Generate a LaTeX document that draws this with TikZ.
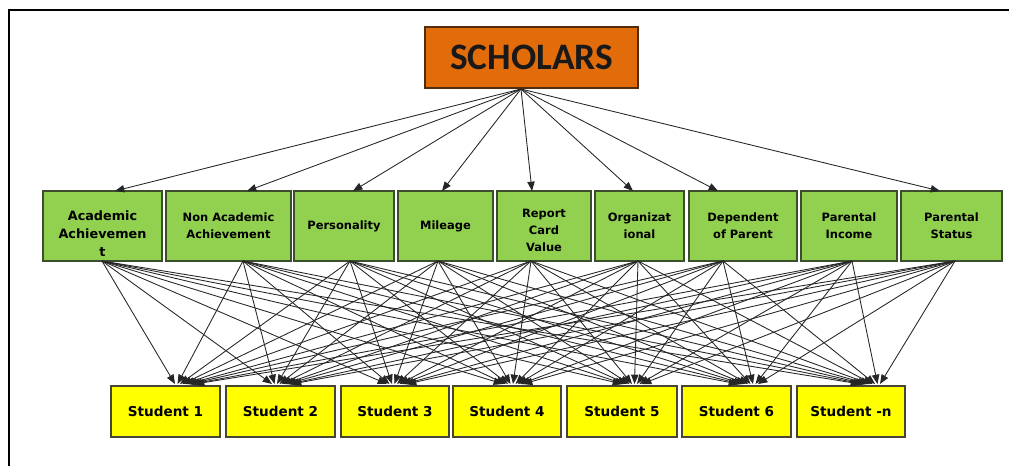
\documentclass[tikz,border=0pt]{standalone}
\usepackage{fontspec}
\setmainfont{DejaVu Sans}
\newfontfamily\calib{Carlito}
\usetikzlibrary{arrows.meta,calc}
\definecolor{gfill}{RGB}{146,208,80}
\definecolor{gdraw}{RGB}{60,78,45}
\definecolor{ofill}{RGB}{226,108,10}
\definecolor{odraw}{RGB}{80,45,15}
\definecolor{yfill}{RGB}{255,255,0}
\definecolor{ydraw}{RGB}{70,70,50}
\newcommand\mybox[7]{\node[#6, minimum width={(#4-#2)*0.75pt}, minimum height={(#5-#3)*0.75pt}] (#1) at ({(#2+#4)/2},{(#3+#5)/2}) {#7};}
\begin{document}
\begin{tikzpicture}[x=0.75pt,y=-0.75pt,
 boxbase/.style={draw, line width=0.9pt, inner sep=0pt, outer sep=0pt, align=center, font=\bfseries\fontsize{8.6}{12.8}\selectfont},
 gbox/.style={boxbase, fill=gfill, draw=gdraw},
 gboxbig/.style={gbox, font=\bfseries\fontsize{9.6}{13.5}\selectfont},
 ybox/.style={boxbase, fill=yfill, draw=ydraw, font=\bfseries\fontsize{10.2}{12}\selectfont},
 obox/.style={boxbase, fill=ofill, draw=odraw, font=\calib\bfseries\fontsize{28}{30}\selectfont, text=black!90},
 arr/.style={-{Triangle[length=7pt,width=5.5pt]}, line width=0.65pt, draw=black!85}]
\useasboundingbox (0,0) rectangle (1009,466);
\draw[line width=2.2pt] (9,470) -- (9,10) -- (1015,10);
% top node
\mybox{sch}{425}{27}{638}{88}{obox}{SCHOLARS}
\coordinate (scb) at (521,89);
% criteria
\mybox{g1}{43}{191}{162}{261}{gboxbig}{\rule{0pt}{19pt}Academic\\Achievemen\\t}
\mybox{g2}{166}{191}{291}{261}{gbox}{Non Academic\\Achievement}
\mybox{g3}{294}{191}{394}{261}{gbox}{Personality}
\mybox{g4}{398}{191}{493}{261}{gbox}{Mileage}
\mybox{g5}{497}{191}{591}{261}{gbox}{\rule{0pt}{13pt}Report\\Card\\Value}
\mybox{g6}{595}{191}{684}{261}{gbox}{Organizat\\ional}
\mybox{g7}{689}{191}{797}{261}{gbox}{Dependent\\of Parent}
\mybox{g8}{801}{191}{897}{261}{gbox}{Parental\\Income}
\mybox{g9}{901}{191}{1002}{261}{gbox}{Parental\\Status}
% students
\mybox{s1}{111}{386}{220}{437}{ybox}{Student 1}
\mybox{s2}{226}{386}{335}{437}{ybox}{Student 2}
\mybox{s3}{341}{386}{449}{437}{ybox}{Student 3}
\mybox{s4}{453}{386}{561}{437}{ybox}{Student 4}
\mybox{s5}{567}{386}{677}{437}{ybox}{Student 5}
\mybox{s6}{682}{386}{791}{437}{ybox}{Student 6}
\mybox{s7}{797}{386}{905}{437}{ybox}{Student -n}
% arrow tips on criteria tops
\coordinate (g1t) at (115,191);
\coordinate (g2t) at (247,191);
\coordinate (g3t) at (353,191);
\coordinate (g4t) at (442,191);
\coordinate (g5t) at (532,191);
\coordinate (g6t) at (633,191);
\coordinate (g7t) at (718,191);
\coordinate (g9t) at (940,191);
% sources on criteria bottoms
\coordinate (g1b) at (102,261);
\coordinate (g2b) at (243,261);
\coordinate (g3b) at (350,261);
\coordinate (g4b) at (438,261);
\coordinate (g5b) at (531,261);
\coordinate (g6b) at (638,261);
\coordinate (g7b) at (723,261);
\coordinate (g8b) at (852,261);
\coordinate (g9b) at (955,261);
% student targets
\coordinate (s1t) at (185,384);
\coordinate (s2t) at (282,384);
\coordinate (s3t) at (397,384);
\coordinate (s4t) at (513,384);
\coordinate (s5t) at (632,384);
\coordinate (s6t) at (748,384);
\coordinate (s7t) at (870,384);
\foreach \k in {1,2,3,4,5,6,7,9} \draw[arr] (scb) -- (g\k t);
\foreach \i in {1,...,9} \foreach \j in {1,...,7} \draw[arr] (g\i b) -- ($(s\j t)+({(\i-5)*2.5},0)$);
\end{tikzpicture}
\end{document}
